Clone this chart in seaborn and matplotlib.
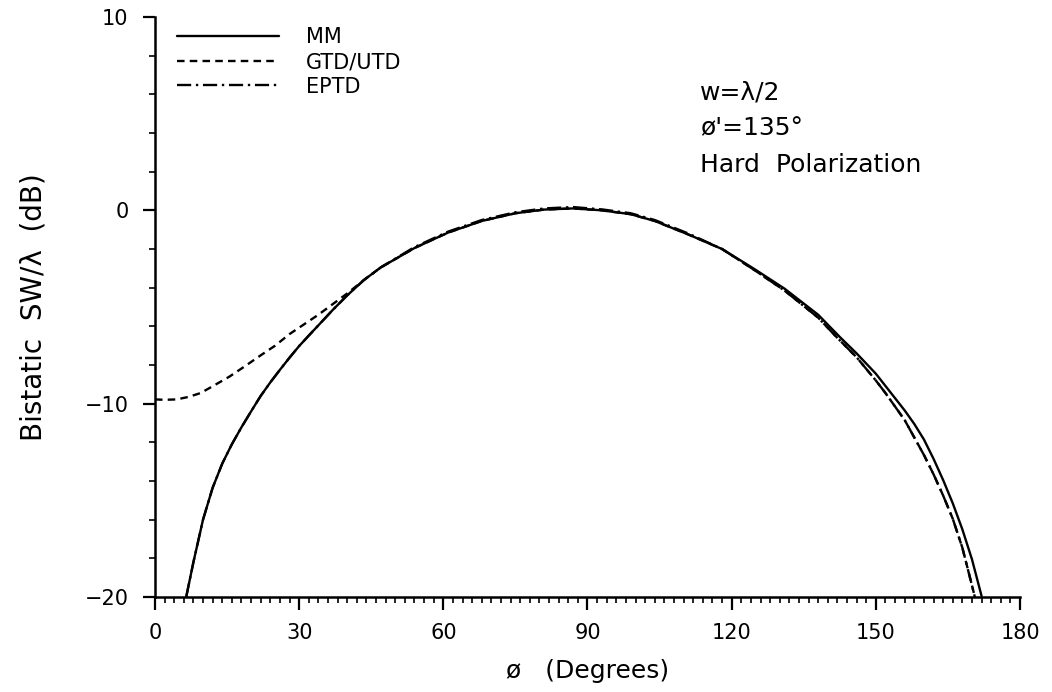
import numpy as np
import pandas as pd
import matplotlib
matplotlib.use("Agg")
import matplotlib.pyplot as plt
from matplotlib.ticker import MultipleLocator
import seaborn as sns

# valores (phi en grados, SW/lambda en dB)
phi_mm = [6.5, 8.0, 10.0, 12.0, 14.0, 16.0, 18.0, 20.0, 22.0, 24.0, 26.0, 28.0,
          30.0, 32.0, 34.0, 37.0, 40.0, 43.5, 47.0, 54.0, 61.0, 68.0, 75.0, 81.0,
          87.0, 93.0, 99.0, 104.0, 111.0, 118.0, 124.5, 131.0, 138.0, 142.5,
          146.0, 150.0, 153.0, 156.0, 158.0, 160.0, 162.0, 164.0, 166.0, 168.0,
          170.0, 172.0]
mm_db = [-20.0, -18.2, -16.0, -14.35, -13.1, -12.1, -11.22, -10.4, -9.6, -8.9, -8.25, -7.62,
         -7.02, -6.48, -5.95, -5.15, -4.4, -3.6, -2.95, -1.95, -1.15, -0.55, -0.15, 0.04,
         0.1, 0.0, -0.2, -0.55, -1.25, -2.0, -3.0, -4.05, -5.4, -6.55,
         -7.4, -8.45, -9.4, -10.35, -11.05, -11.85, -12.85, -13.95, -15.15, -16.5,
         -18.05, -19.95]

phi_gtd = [0.0, 2.0, 4.5, 7.0, 9.5, 12.0, 15.5, 18.5, 22.0, 25.0, 28.0, 31.0, 34.0,
           37.0, 40.0, 43.5, 47.0, 54.0, 61.0, 68.0, 75.0, 81.0, 87.0, 93.0, 99.0,
           104.0, 111.0, 118.0, 124.5, 131.0, 138.0, 142.0, 146.0, 150.0, 152.0,
           154.0, 156.0, 158.0, 160.0, 162.0, 164.0, 166.0, 168.0, 170.0, 170.6]
gtd_db = [-9.78, -9.8, -9.78, -9.65, -9.45, -9.1, -8.6, -8.1, -7.5, -7.0, -6.4, -5.9, -5.4,
          -4.85, -4.3, -3.6, -2.95, -1.95, -1.15, -0.55, -0.15, 0.04, 0.1, 0.0, -0.2,
          -0.55, -1.25, -2.0, -3.05, -4.15, -5.55, -6.6, -7.6, -8.8, -9.45,
          -10.15, -10.85, -11.75, -12.65, -13.65, -14.75, -15.95, -17.45, -19.4, -20.0]

phi_eptd = [6.5, 8.0, 10.0, 12.0, 14.0, 16.0, 18.0, 20.0, 22.0, 24.0, 26.0, 28.0,
            30.0, 32.0, 34.0, 37.0, 40.0, 43.5, 47.0, 54.0, 61.0, 68.0, 75.0, 81.0,
            87.0, 93.0, 99.0, 104.0, 111.0, 118.0, 124.5, 131.0, 138.0, 142.0,
            146.0, 150.0, 152.0, 154.0, 156.0, 158.0, 160.0, 162.0, 164.0, 166.0,
            168.0, 170.0, 170.6]
eptd_db = [-20.0, -18.2, -16.0, -14.35, -13.1, -12.1, -11.22, -10.4, -9.6, -8.9, -8.25, -7.62,
           -7.02, -6.48, -5.95, -5.15, -4.4, -3.6, -2.95, -1.9, -1.1, -0.5, -0.1, 0.1,
           0.17, 0.05, -0.15, -0.5, -1.2, -2.0, -3.05, -4.15, -5.55, -6.6,
           -7.6, -8.8, -9.45, -10.15, -10.85, -11.75, -12.65, -13.65, -14.75, -15.95,
           -17.45, -19.4, -20.0]

metodos = ["MM", "GTD/UTD", "EPTD"]

datos = pd.concat([
    pd.DataFrame({"phi": phi_mm, "db": mm_db, "metodo": "MM"}),
    pd.DataFrame({"phi": phi_gtd, "db": gtd_db, "metodo": "GTD/UTD"}),
    pd.DataFrame({"phi": phi_eptd, "db": eptd_db, "metodo": "EPTD"}),
], ignore_index=True)

sns.set_style("ticks")
plt.rcParams["font.family"] = ["DejaVu Sans"]
plt.rcParams["text.color"] = "black"
plt.rcParams["axes.labelcolor"] = "black"
plt.rcParams["xtick.color"] = "black"
plt.rcParams["ytick.color"] = "black"

fig = plt.figure(figsize=(10.52, 6.92), dpi=100)
ax = fig.add_axes([0.1473, 0.1373, 0.8223, 0.8381])

sns.lineplot(data=datos, x="phi", y="db", hue="metodo", style="metodo",
             hue_order=metodos, style_order=metodos,
             palette=["black"] * 3,
             dashes={"MM": "", "GTD/UTD": (3.2, 2.2), "EPTD": (6, 2, 1, 2)},
             linewidth=1.7, sort=False, estimator=None, ax=ax)

ax.set_xlim(0, 180)
ax.set_ylim(-20, 10)
ax.set_xticks(np.arange(0, 181, 30))
ax.set_yticks([-20, -10, 0, 10])
ax.xaxis.set_minor_locator(MultipleLocator(2))
ax.yaxis.set_minor_locator(MultipleLocator(2))
ax.tick_params(which="major", length=9, width=1.6, labelsize=15, pad=10, color="black",
               labelcolor="black")
ax.tick_params(which="minor", length=4.5, width=1.2, color="black")
sns.despine(ax=ax)
for s in ["left", "bottom"]:
    ax.spines[s].set_linewidth(1.8)
    ax.spines[s].set_color("black")

ax.set_xlabel("ø   (Degrees)", fontsize=18, labelpad=11, color="black")
ax.set_ylabel("Bistatic  SW/λ  (dB)", fontsize=20, labelpad=27, color="black")

handles, labels = ax.get_legend_handles_labels()
leg = ax.legend(handles, labels, loc="upper left", bbox_to_anchor=(0.0254, 0.982), frameon=False,
                fontsize=15, handlelength=4.9, handletextpad=1.3, labelspacing=0.22,
                borderpad=0, borderaxespad=0)
for t in leg.get_texts():
    t.set_color("black")

ax.text(0.63, 0.869, "w=λ/2", transform=ax.transAxes, fontsize=18, va="center", color="black")
ax.text(0.63, 0.809, "ø'=135°", transform=ax.transAxes, fontsize=18, va="center", color="black")
ax.text(0.63, 0.745, "Hard  Polarization", transform=ax.transAxes, fontsize=18, va="center",
        color="black")

plt.savefig("out.png", dpi=100)
